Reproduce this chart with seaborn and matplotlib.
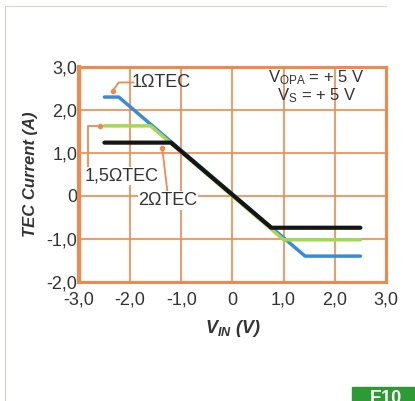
import numpy as np
import pandas as pd
import matplotlib
matplotlib.use("Agg")
import matplotlib.pyplot as plt
from matplotlib.patches import Rectangle
import seaborn as sns

# ─── Data ────────────────────────────────────────────────────────────────────
vin_1ohm = [-2.5, -2.22, 1.42, 2.5]
cur_1ohm = [2.30, 2.30, -1.40, -1.40]

vin_15ohm = [-2.5, -1.60, 1.00, 2.5]
cur_15ohm = [1.63, 1.63, -1.02, -1.02]

vin_2ohm = [-2.5, -1.20, 0.76, 2.5]
cur_2ohm = [1.24, 1.24, -0.74, -0.74]

series_names = ["1ΩTEC", "1,5ΩTEC", "2ΩTEC"]
series_colors = ["#3b8bd2", "#a6d65a", "#151515"]

x_ticks = [-3, -2, -1, 0, 1, 2, 3]
x_ticklabels = ["-3,0", "-2,0", "-1,0", "0", "1,0", "2,0", "3,0"]
y_ticks = [-2, -1, 0, 1, 2, 3]
y_ticklabels = ["-2,0", "-1,0", "0", "1,0", "2,0", "3,0"]

df = pd.concat([
    pd.DataFrame({"vin": vin_1ohm, "cur": cur_1ohm, "tec": series_names[0]}),
    pd.DataFrame({"vin": vin_15ohm, "cur": cur_15ohm, "tec": series_names[1]}),
    pd.DataFrame({"vin": vin_2ohm, "cur": cur_2ohm, "tec": series_names[2]}),
], ignore_index=True)

# ─── Style ───────────────────────────────────────────────────────────────────
sns.set_theme(style="white")
plt.rcParams["font.family"] = ["Liberation Sans", "DejaVu Sans"]
plt.rcParams["mathtext.fontset"] = "custom"
plt.rcParams["mathtext.it"] = "Liberation Sans:italic:bold"
plt.rcParams["mathtext.rm"] = "Liberation Sans"
ORANGE = "#f0894c"
TXT = "#333333"

fig = plt.figure(figsize=(4.15, 4.01), dpi=100)
ax = fig.add_axes([0.190, 0.297, 0.740, 0.536])

# curves (black drawn last, on top)
for name, col in zip(series_names, series_colors):
    sub = df[df["tec"] == name]
    sns.lineplot(data=sub, x="vin", y="cur", ax=ax, color=col,
                 lw=3.0 if name == "2ΩTEC" else 2.5, sort=False,
                 estimator=None, legend=False, zorder=3)

ax.set_xlim(-3, 3)
ax.set_ylim(-2, 3)
ax.set_xticks(x_ticks)
ax.set_xticklabels(x_ticklabels)
ax.set_yticks(y_ticks)
ax.set_yticklabels(y_ticklabels)
ax.tick_params(axis="x", length=0, pad=7, labelsize=13, labelcolor=TXT)
ax.tick_params(axis="y", length=0, pad=1, labelsize=13, labelcolor=TXT)

ax.grid(True, color=ORANGE, lw=1.2)
for side, sp in ax.spines.items():
    sp.set_visible(True)
    sp.set_color(ORANGE)
    sp.set_linewidth(2.2)
ax.spines["left"].set_linewidth(3.0)

ax.set_xlabel(r"$V_{IN}$ (V)", fontsize=13, fontweight="bold",
              fontstyle="italic", color=TXT, labelpad=7)
ax.set_ylabel("TEC Current (A)", fontsize=12, fontweight="bold",
              fontstyle="italic", color=TXT, labelpad=6)

# ─── Annotations ─────────────────────────────────────────────────────────────
ax.text(-1.96, 2.64, "1ΩTEC", fontsize=13, color=TXT, va="center", ha="left",
        zorder=5)
ax.plot([-1.93, -2.22, -2.34], [2.64, 2.64, 2.44], color=ORANGE, lw=1.3, zorder=4)
ax.plot([-2.34], [2.44], "o", color=ORANGE, ms=3, zorder=4)

ax.text(-2.88, 0.47, "1,5ΩTEC", fontsize=13, color=TXT, va="center", ha="left",
        zorder=5, bbox=dict(fc="white", ec="none", pad=0.5))
ax.plot([-2.83, -2.83, -2.58], [0.66, 1.63, 1.63], color=ORANGE, lw=1.3, zorder=4)
ax.plot([-2.58], [1.63], "o", color=ORANGE, ms=3, zorder=4)

ax.text(-1.84, -0.11, "2ΩTEC", fontsize=13, color=TXT, va="center", ha="left",
        zorder=5, bbox=dict(fc="white", ec="none", pad=0.5))
ax.plot([-1.37, -1.27], [1.11, 0.10], color=ORANGE, lw=1.3, zorder=4)
ax.plot([-1.37], [1.11], "o", color=ORANGE, ms=3, zorder=4)

ax.text(1.64, 2.74, r"V$_{\mathregular{OPA}}$ = + 5 V", fontsize=12, color=TXT,
        ha="center", va="center", zorder=5)
ax.text(1.64, 2.33, r"V$_{\mathregular{S}}$ = + 5 V", fontsize=12, color=TXT,
        ha="center", va="center", zorder=5)

# ─── Page decorations ────────────────────────────────────────────────────────
fig.add_artist(plt.Line2D([0.012, 0.012], [0.0, 0.985], color="#c9cfb8", lw=0.8))
fig.add_artist(plt.Line2D([0.012, 0.93], [0.985, 0.985], color="#d8d8c8", lw=0.8))
fig.add_artist(Rectangle((0.848, 0.0), 0.152, 0.035, transform=fig.transFigure,
                         color="#2e9a34", zorder=1))
fig.text(0.93, 0.006, "E10", fontsize=13, fontweight="bold", color="white",
         ha="center", va="center")

fig.savefig("out.png", dpi=100)
